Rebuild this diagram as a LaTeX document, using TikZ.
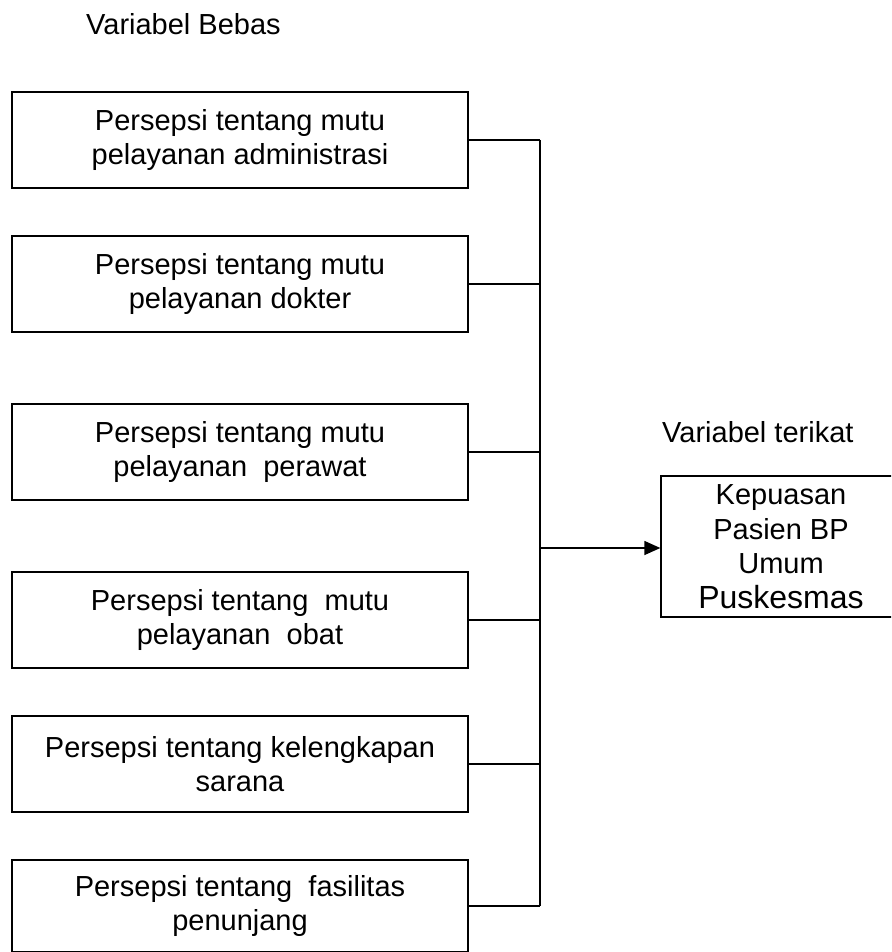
\documentclass[tikz,border=0pt]{standalone}
\usepackage{fontspec}
\setmainfont{Liberation Sans}
\usetikzlibrary{arrows.meta}
\begin{document}
\begin{tikzpicture}[x=1pt,y=-1pt,
  conn/.style={line width=1.3pt,black},
  lbox/.style={draw,line width=1.3pt,minimum width=456pt,minimum height=96pt,inner sep=0pt,align=center,
    font=\fontsize{29}{34}\selectfont},
  rbox/.style={draw,line width=1.3pt,minimum width=240pt,minimum height=141pt,inner sep=0pt,align=center,
    font=\fontsize{29}{34.5}\selectfont},
  lbl/.style={anchor=base west,inner sep=0pt,font=\fontsize{29}{34}\selectfont}]
\useasboundingbox (0,0) rectangle (891,952);
\clip (0,0) rectangle (891,952);
\node[lbl] (vb) at (86,35) {Variabel Bebas};
\node[lbl] (vt) at (662,442) {Variabel terikat};
\node[lbox] (b1) at (240,140) {Persepsi tentang mutu\\pelayanan administrasi};
\node[lbox] (b2) at (240,284) {Persepsi tentang mutu\\pelayanan dokter};
\node[lbox] (b3) at (240,452) {Persepsi tentang mutu\\pelayanan\ \ perawat};
\node[lbox] (b4) at (240,620) {Persepsi tentang\ \ mutu\\pelayanan\ \ obat};
\node[lbox] (b5) at (240,764) {Persepsi tentang kelengkapan\\sarana};
\node[lbox,minimum height=92pt] (b6) at (240,906) {Persepsi tentang\ \ fasilitas\\penunjang};
\node[rbox] (t) at (781,546.5) {Kepuasan\\Pasien BP\\Umum\\{\fontsize{32}{34.5}\selectfont Puskesmas}};
\coordinate (sTop) at (540,140);
\coordinate (sBot) at (540,906);
\coordinate (sMid) at (540,548);
\draw[conn] (sTop) -- (sBot);
\foreach \b in {b1,b2,b3,b4,b5,b6}{
  \draw[conn] (\b.east) -- (\b.east -| sTop);
}
\draw[conn,-{Triangle[length=16pt,width=14pt]}] (sMid) -- (sMid -| t.west);
\end{tikzpicture}
\end{document}
